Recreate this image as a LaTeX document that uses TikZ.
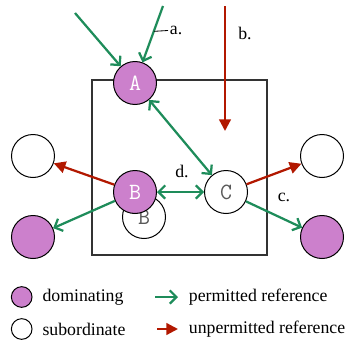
\documentclass[tikz,border=0pt]{standalone}
\usepackage{fontspec}
\setmainfont{Liberation Serif}
\usetikzlibrary{arrows.meta, positioning}
\definecolor{domfill}{RGB}{204,128,204}
\definecolor{okgreen}{RGB}{30,140,90}
\definecolor{badred}{RGB}{178,24,0}
\tikzset{
  dom/.style={circle, draw=black, line width=0.6pt, fill=domfill, minimum size=25.8bp, inner sep=0pt,
    font=\fontsize{14}{14}\ttfamily, text=white},
  sub/.style={circle, draw=black, line width=0.6pt, fill=white, minimum size=25.8bp, inner sep=0pt,
    font=\fontsize{14}{14}\ttfamily, text=black!65},
  smalldot/.style={circle, draw=black, line width=0.6pt, minimum size=12.4bp, inner sep=0pt},
  okref/.style={draw=okgreen, line width=1.35pt, -{Straight Barb[length=4pt,width=8pt]}},
  bothref/.style={draw=okgreen, line width=1.35pt, {Straight Barb[length=4pt,width=8pt]}-{Straight Barb[length=4pt,width=8pt]}},
  badref/.style={draw=badred, line width=1.35pt, -{Triangle[length=7bp,width=7bp]}},
  tag/.style={inner sep=1pt}
}
\begin{document}
\begin{tikzpicture}[x=0.6bp, y=-0.6bp, font=\fontsize{10.7}{13}\selectfont]
  \useasboundingbox (0,0) rectangle (346,343);
  % the box
  \draw[line width=0.8pt, black!80] (92,80) rectangle (267,255);
  % nodes
  \node[dom] (A) at (135,83) {A};
  \node[sub] (Bsub) at (144,217) {B};
  \node[dom] (B) at (135,192) {B};
  \node[sub] (C) at (226,192) {C};
  \node[sub] (lt) at (33,156) {};
  \node[dom] (lb) at (33,237) {};
  \node[sub] (rt) at (322,156) {};
  \node[dom] (rb) at (322,237) {};
  % free ends
  \coordinate (s1) at (75,13);
  \coordinate (s2) at (163,6);
  \coordinate (s3) at (225,6);
  \coordinate (e3) at (225,131);
  % references
  \draw[okref] (s1) -- (A);
  \draw[okref] (s2) -- coordinate[pos=0.45] (ta) (A);
  \draw[badref] (s3) -- (e3);
  \draw[bothref] (A) -- (C);
  \draw[bothref] (B) -- (C);
  \draw[badref] (B) -- (lt);
  \draw[okref] (B) -- (lb);
  \draw[badref] (C) -- (rt);
  \draw[okref] (C) -- (rb);
  % labels
  \node[tag, anchor=west] (la) at (168,30) {a.};
  \draw[line width=0.5pt] (ta) -- (la);
  \node[tag] (lbl) at (245,33) {b.};
  \node[tag] (lc) at (284,197) {c.};
  \node[tag] (ld) at (182,171) {d.};
  % legend
  \node[smalldot, fill=domfill] (ldom) at (21.7,297) {};
  \node[smalldot, fill=white] (lsub) at (21.7,329) {};
  \node[right=2.5bp of ldom] (tdom) {dominating};
  \node[right=2.5bp of lsub] (tsub) {subordinate};
  \coordinate (pa) at (155,297);
  \coordinate (ua) at (157,329);
  \node[anchor=west] (tok) at (183,297) {permitted reference};
  \node[anchor=west] (tbad) at (183,329) {unpermitted reference};
  \draw[okref, shorten >=3bp] (pa) -- (tok);
  \draw[badref, shorten >=3bp] (ua) -- (tbad);
\end{tikzpicture}
\end{document}
